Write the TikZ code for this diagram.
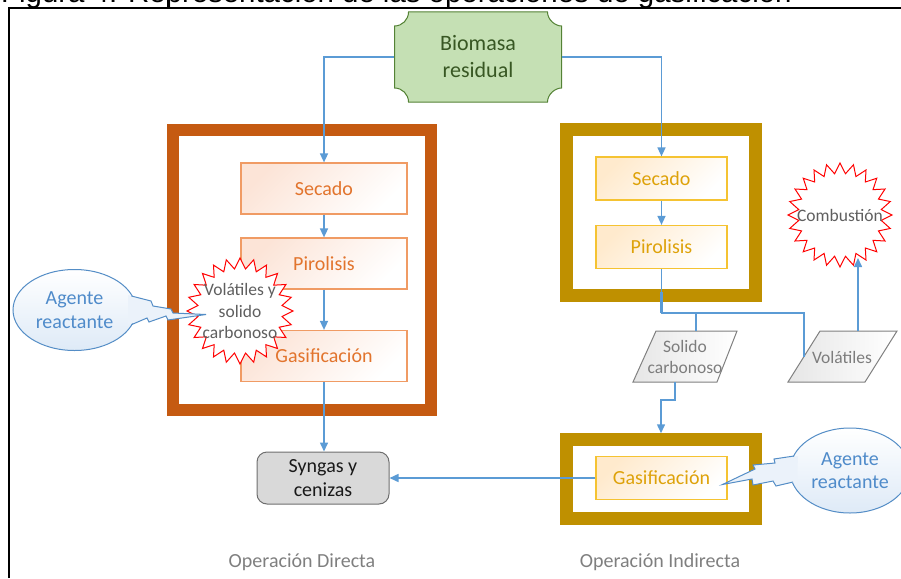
\documentclass[tikz,border=0pt]{standalone}
\usepackage{fontspec}
\setmainfont{Carlito}
\newfontfamily\titlefont{Liberation Sans}
\usetikzlibrary{arrows.meta,shapes.geometric,calc}

\definecolor{flowc}{RGB}{91,155,213}
\definecolor{dirframe}{RGB}{197,90,17}
\definecolor{indframe}{RGB}{191,144,0}
\definecolor{dirborder}{RGB}{240,155,100}
\definecolor{dirfill}{RGB}{252,228,215}
\definecolor{dirtext}{RGB}{226,116,45}
\definecolor{indborder}{RGB}{245,195,50}
\definecolor{indfill}{RGB}{255,234,205}
\definecolor{indtext}{RGB}{222,162,10}
\definecolor{biofill}{RGB}{197,224,180}
\definecolor{bioborder}{RGB}{84,130,53}
\definecolor{biotext}{RGB}{56,87,35}
\definecolor{synfill}{RGB}{217,217,217}
\definecolor{synborder}{RGB}{110,110,110}
\definecolor{sealtext}{RGB}{95,95,95}
\definecolor{paratext}{RGB}{125,125,125}
\definecolor{paraborder}{RGB}{128,128,128}
\definecolor{parafill}{RGB}{230,230,230}
\definecolor{agentborder}{RGB}{84,141,198}
\definecolor{agenttext}{RGB}{79,139,202}
\definecolor{agentfill}{RGB}{222,234,247}
\definecolor{labelgray}{RGB}{127,127,127}

\begin{document}
\begin{tikzpicture}[x=1pt,y=-1pt,
  flow/.style={draw=flowc,line width=1.5pt,-{Triangle[length=9pt,width=8pt]}},
  flowline/.style={draw=flowc,line width=1.5pt},
  opframe/.style={draw=#1,line width=12.5pt,inner sep=0pt,fill=white},
  dirbox/.style={draw=dirborder,line width=1.2pt,top color=dirfill,bottom color=white,shading angle=45,
    text=dirtext,font=\fontsize{20}{24}\selectfont,minimum width=166pt,minimum height=51pt,inner sep=0pt},
  indbox/.style={draw=indborder,line width=1.2pt,top color=indfill,bottom color=white,shading angle=45,
    text=indtext,font=\fontsize{20}{24}\selectfont,minimum width=131pt,minimum height=43pt,inner sep=0pt},
  seal/.style={star,star points=24,star point ratio=1.25,draw=red,fill=white,line width=1pt,
    minimum size=106pt,inner sep=0pt},
  sealtxt/.style={text=sealtext,font=\fontsize{17.5}{21.5}\selectfont,align=center,inner sep=0pt},
  para/.style={draw=paraborder,line width=1pt,left color=parafill,right color=white},
  paratxt/.style={text=paratext,font=\fontsize{17.5}{21}\selectfont,align=center,inner sep=0pt},
  agent/.style={ellipse,draw=agentborder,line width=1pt,top color=white,bottom color=agentfill,
    text=agenttext,font=\fontsize{20}{23.5}\selectfont,align=center,inner sep=0pt},
  tailfill/.style={fill=agentfill!60!white},
  tailline/.style={draw=agentborder,line width=1pt,line join=miter},
  oplabel/.style={text=labelgray,font=\fontsize{20}{24}\selectfont,inner sep=0pt}
]
\useasboundingbox (0,0) rectangle (901,578);

% caption line and table rules
\node[anchor=base west,inner sep=0pt,font=\titlefont\fontsize{29.4}{32}\selectfont] (caption) at (1,3)
  {Figura 4. Representación de las operaciones de gasificación};
\draw[line width=2pt] (9,578) -- (9,8) -- (901,8);
\draw[line width=1.5pt] (168,0) -- (168,8);

% feedstock plaque
\path[fill=biofill,draw=bioborder,line width=1pt]
  (394.5,26) .. controls (402.2,26) and (408.5,19.7) .. (408.5,12)
  -- (547.5,12) .. controls (547.5,19.7) and (555.2,26) .. (561.5,26)
  -- (561.5,88) .. controls (555.2,88) and (547.5,94.3) .. (547.5,102)
  -- (408.5,102) .. controls (408.5,94.3) and (402.2,88) .. (394.5,88) -- cycle;
\node[minimum width=167pt,minimum height=90pt,inner sep=0pt,align=center,text=biotext,
  font=\fontsize{22}{27}\selectfont] (bio) at (478,57) {Biomasa\\residual};

% operation frames
\node[opframe=dirframe,minimum width=258pt,minimum height=280pt] (fdir) at (302,270) {};
\node[opframe=indframe,minimum width=189pt,minimum height=166pt] (find) at (661,212.5) {};
\node[opframe=indframe,minimum width=189pt,minimum height=79pt] (fgas) at (661,479) {};

% direct operation stages
\node[dirbox] (ls) at (324,188.5) {Secado};
\node[dirbox] (lp) at (324,263.5) {Pirolisis};
\node[dirbox] (lg) at (324,356) {Gasificación};

% indirect operation stages
\node[indbox] (rs) at (661.5,178.5) {Secado};
\node[indbox] (rp) at (661.5,247) {Pirolisis};
\node[indbox] (rg) at (661.5,478) {Gasificación};

% products
\node[draw=synborder,fill=synfill,line width=1pt,rounded corners=10pt,minimum width=132pt,
  minimum height=52pt,inner sep=0pt,align=center,text=black!90,font=\fontsize{20}{24}\selectfont]
  (syn) at (323,478) {Syngas y\\cenizas};

% parallelograms for the pyrolysis products
\path[para] (656,331) -- (737,331) -- (717,382) -- (633,382) -- cycle;
\node[paratxt] (sol) at (685,357) {Solido\\carbonoso};
\coordinate (sol-n) at (696,331);
\coordinate (sol-s) at (675,382);
\path[para] (820,331) -- (897,331) -- (865,382) -- (788,382) -- cycle;
\node[paratxt] (vol) at (842,357) {Volátiles};
\coordinate (vol-n) at (858,331);
\coordinate (vol-w) at (804,356.5);

% connectors
\draw[flow] (bio.west) -| (ls.north);
\draw[flow] (bio.east) -| (rs.north);
\draw[flow] (ls.south) -- (lp.north);
\draw[flow] (lp.south) -- (lg.north);
\draw[flow] (lg.south) -- (lg.south |- syn.north);
\draw[flow] (rs.south) -- (rp.north);
\coordinate (bus) at (661.5,313);
\draw[flowline] (rp.south) -- (bus) -| (vol-w);
\draw[flowline,line width=3pt] (661.5,292) -- (bus);
\draw[flowline] (sol-n |- bus) -- (sol-n);
\draw[flow] (sol-s) -- ++(0,18) -| (fgas.north);
\draw[flow] (rg.west) -- (syn.east);

% reaction bursts
\node[seal,label={[sealtxt]center:Volátiles y\\solido\\carbonoso}] (vs) at (240,311) {};
\node[seal,minimum size=104pt,label={[sealtxt]center:Combustión}] (comb) at (840,215) {};
\coordinate (comb-in) at (858,258);
\draw[flow] (vol-n) -- (comb-in);

% reacting agent callouts
\node[agent,minimum width=123pt,minimum height=81pt] (agl) at (74.5,310) {Agente\\reactante};
\path[tailfill] (128,295) -- (151,301) -- (153,306) -- (171,309) -- (173,313) -- (206,314.5)
  -- (168,320) -- (166,316) -- (149,322) -- (147,318) -- (128,325) -- cycle;
\path[tailline] (131.5,296) -- (151,301) -- (153,306) -- (171,309) -- (173,313) -- (206,314.5)
  -- (168,320) -- (166,316) -- (149,322) -- (147,318) -- (131.8,324.5);

\node[agent,minimum width=120pt,minimum height=85pt] (agr) at (850,470.5) {Agente\\reactante};
\path[tailfill] (798,456) -- (774,459) -- (775,463) -- (753,465) -- (755,469) -- (722.5,484.5)
  -- (752,479) -- (753,485) -- (773,481) -- (776,486) -- (797,482) -- cycle;
\path[tailline] (794,456) -- (774,459) -- (775,463) -- (753,465) -- (755,469) -- (722.5,484.5)
  -- (752,479) -- (753,485) -- (773,481) -- (776,486) -- (793,482);

% operation labels
\node[oplabel] (ldir) at (302,562) {Operación Directa};
\node[oplabel] (lind) at (660,562) {Operación Indirecta};
\end{tikzpicture}
\end{document}
